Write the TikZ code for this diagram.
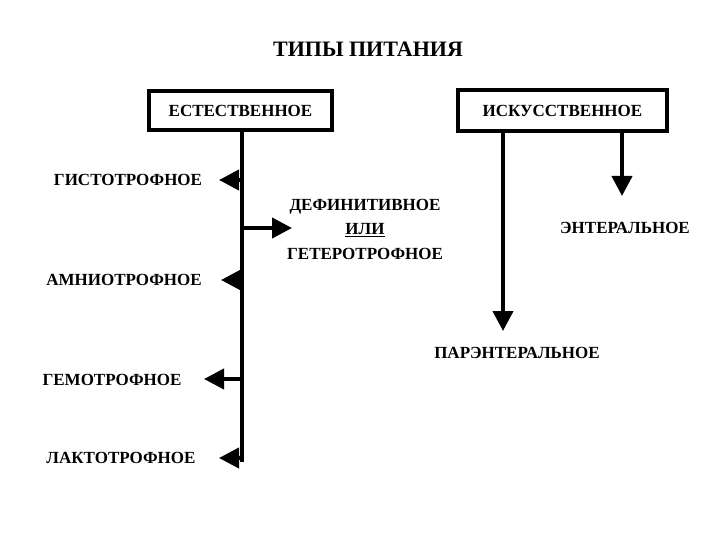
\documentclass[tikz,border=0pt]{standalone}
\usepackage{fontspec}
\setmainfont{Liberation Serif}
\usetikzlibrary{arrows.meta}
\tikzset{
  lbl/.style={font=\bfseries\fontsize{17}{24.5}\selectfont, inner sep=1pt},
  boxnode/.style={draw, line width=4pt, inner sep=0pt, font=\bfseries\fontsize{17}{20}\selectfont},
  trunk/.style={line width=4pt},
  arr/.style={line width=4pt, -{Triangle[length=20pt,width=20pt]}},
}
\begin{document}
\begin{tikzpicture}[x=1pt,y=-1pt]
\useasboundingbox (0,0) rectangle (720,540);
\node[font=\bfseries\fontsize{22}{24}\selectfont] (title) at (368,49) {ТИПЫ ПИТАНИЯ};
\node[boxnode, minimum width=183pt, minimum height=39pt] (nat) at (240.5,110.5) {ЕСТЕСТВЕННОЕ};
\node[boxnode, minimum width=209pt, minimum height=41pt] (art) at (562.5,110.5) {ИСКУССТВЕННОЕ};
% left trunk
\coordinate (t1) at (242,462);
\coordinate (b1) at (242,180);
\coordinate (b2) at (242,228);
\coordinate (b3) at (242,280);
\coordinate (b4) at (242,379);
\coordinate (b5) at (242,458);
\coordinate (e1) at (219,180);
\coordinate (e2) at (292,228);
\coordinate (e3) at (221,280);
\coordinate (e4) at (204,379);
\coordinate (e5) at (219,458);
\draw[trunk] (nat.south -| t1) -- (t1);
\node[lbl] (gist) at (128,180) {ГИСТОТРОФНОЕ};
\node[lbl, align=center] (def) at (365,229) {ДЕФИНИТИВНОЕ\\\underline{ИЛИ}\\ГЕТЕРОТРОФНОЕ};
\node[lbl] (amn) at (124,280) {АМНИОТРОФНОЕ};
\node[lbl] (gem) at (112,380) {ГЕМОТРОФНОЕ};
\node[lbl] (lakt) at (121,458) {ЛАКТОТРОФНОЕ};
\draw[arr] (b1) -- (e1);
\draw[arr] (b2) -- (e2);
\draw[arr] (b3) -- (e3);
\draw[arr] (b4) -- (e4);
\draw[arr] (b5) -- (e5);
% right
\node[lbl] (ent) at (625,228) {ЭНТЕРАЛЬНОЕ};
\node[lbl] (par) at (517,353) {ПАРЭНТЕРАЛЬНОЕ};
\coordinate (r1) at (503,331);
\coordinate (r2) at (622,196);
\draw[arr] (art.south -| r1) -- (r1);
\draw[arr] (art.south -| r2) -- (r2);
\end{tikzpicture}
\end{document}
